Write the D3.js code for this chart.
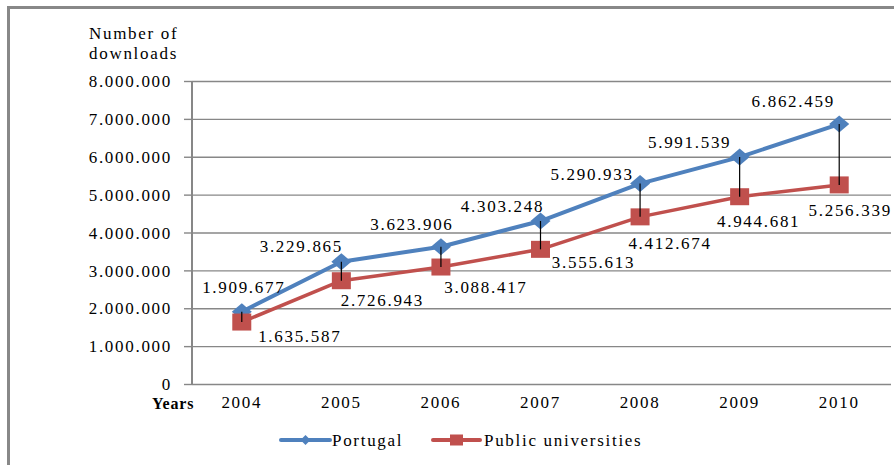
<!DOCTYPE html>
<html>
<head>
<meta charset="utf-8">
<script src="https://cdn.jsdelivr.net/npm/d3@7"></script>
</head>
<body style="margin:0;padding:0;background:#fff;font-family:serif">
<svg id="chart" width="894" height="465" font-family="serif" style="display:block;font-family:serif"></svg>
<script>
// ---- data ----
const years = ["2004", "2005", "2006", "2007", "2008", "2009", "2010"];
const portugal = [1909677, 3229865, 3623906, 4303248, 5290933, 5991539, 6862459];
const publicUniversities = [1635587, 2726943, 3088417, 3555613, 4412674, 4944681, 5256339];
const yTicks = [0, 1000000, 2000000, 3000000, 4000000, 5000000, 6000000, 7000000, 8000000];
const seriesNames = ["Portugal", "Public universities"];
const yTitle = ["Number of", "downloads"];
const xTitle = "Years";

// label offsets (pixels, relative to the point)
const portugalLabelOffset = [[2, -25], [-40, -16], [-29, -23], [-38, -15], [-48, -10], [-50, -15], [-46, -23]];
const publicLabelOffset = [[58, 14], [41, 19], [45, 20], [53, 13], [30, 26], [19, 24], [11, 25]];

(function () {
const FONT = "serif";
const svg = d3.select("#chart");
const pLeft = 192, pRight = 889, pTop = 81, pBottom = 384;
const blue = "#4F81BD", red = "#C0504D", grid = "#878787";
const fontSize = 17, ls = 1.7;

const fmt = v => v === 0 ? "0" : d3.format(",")(v).replace(/,/g, ".");

const x = d3.scaleBand().domain(years).range([pLeft, pRight]);
const cx = d => x(d) + x.bandwidth() / 2;
const y = d3.scaleLinear().domain([0, 8000000]).range([pBottom, pTop]);

// outer frame
svg.append("line").attr("x1", 7).attr("x2", 894).attr("y1", 7.5).attr("y2", 7.5)
  .attr("stroke", "#888").attr("stroke-width", 3);
svg.append("line").attr("x1", 8.5).attr("x2", 8.5).attr("y1", 6).attr("y2", 465)
  .attr("stroke", "#888").attr("stroke-width", 3);

// gridlines
const gridAxis = d3.axisLeft(y).tickValues(yTicks).tickSize(-(891 - pLeft)).tickFormat("");
const gG = svg.append("g").attr("transform", `translate(${pLeft},0)`).call(gridAxis);
gG.select(".domain").remove();
gG.selectAll(".tick line").attr("stroke", grid).attr("stroke-width", 1.4);
gG.selectAll(".tick text").remove();

// y axis ticks + labels
const yAxis = d3.axisLeft(y).tickValues(yTicks).tickSize(8).tickPadding(12).tickFormat(fmt);
const yG = svg.append("g").attr("transform", `translate(${pLeft},0)`).call(yAxis)
  .attr("font-family", FONT).attr("font-size", fontSize);
yG.select(".domain").remove();
yG.selectAll(".tick line").attr("stroke", grid).attr("stroke-width", 1.4);
yG.selectAll(".tick text").attr("fill", "#000").attr("dy", "0.33em");

svg.append("line").attr("x1", pLeft).attr("x2", pLeft).attr("y1", pTop).attr("y2", pBottom)
  .attr("stroke", grid).attr("stroke-width", 2);

// x axis labels
const xAxis = d3.axisBottom(x).tickSize(0).tickPadding(14);
const xG = svg.append("g").attr("transform", `translate(0,${pBottom})`).call(xAxis)
  .attr("font-family", FONT).attr("font-size", fontSize);
xG.select(".domain").remove();
xG.selectAll(".tick text").attr("fill", "#000").attr("dy", "0.6em");

const txt = (sel) => sel.attr("fill", "#000");

// titles
svg.append("text").attr("x", 89).attr("y", 39).call(txt).text(yTitle[0]);
svg.append("text").attr("x", 89).attr("y", 59).call(txt).text(yTitle[1]);
svg.append("text").attr("class", "xt").attr("x", 152).attr("y", 409).call(txt)
  .attr("font-weight", "bold").text(xTitle);

// lines
const line = d3.line().x((d, i) => cx(years[i])).y(d => y(d));
svg.append("path").datum(publicUniversities).attr("d", line).attr("fill", "none")
  .attr("stroke", red).attr("stroke-width", 3.5).attr("stroke-linejoin", "round");
svg.append("path").datum(portugal).attr("d", line).attr("fill", "none")
  .attr("stroke", blue).attr("stroke-width", 4).attr("stroke-linejoin", "round");

// markers
const diamond = (px, py, w, h) => `M${px},${py - h / 2}L${px + w / 2},${py}L${px},${py + h / 2}L${px - w / 2},${py}Z`;
svg.append("g").selectAll("path").data(portugal).join("path")
  .attr("d", (d, i) => diamond(cx(years[i]), y(d), 20, 17)).attr("fill", blue);
svg.append("g").selectAll("rect").data(publicUniversities).join("rect")
  .attr("x", (d, i) => cx(years[i]) - 9.5).attr("y", d => y(d) - 8.5)
  .attr("width", 19).attr("height", 17).attr("fill", red);

// high-low lines
svg.append("g").selectAll("line").data(years).join("line")
  .attr("x1", d => cx(d)).attr("x2", d => cx(d))
  .attr("y1", (d, i) => y(portugal[i])).attr("y2", (d, i) => y(publicUniversities[i]))
  .attr("stroke", "#000").attr("stroke-width", 1.2);

// data labels
svg.append("g").selectAll("text").data(portugal).join("text")
  .attr("x", (d, i) => cx(years[i]) + portugalLabelOffset[i][0])
  .attr("y", (d, i) => y(d) + portugalLabelOffset[i][1])
  .attr("dy", "0.35em").attr("text-anchor", "middle").call(txt).text(fmt);
svg.append("g").selectAll("text").data(publicUniversities).join("text")
  .attr("x", (d, i) => cx(years[i]) + publicLabelOffset[i][0])
  .attr("y", (d, i) => y(d) + publicLabelOffset[i][1])
  .attr("dy", "0.35em").attr("text-anchor", "middle").call(txt).text(fmt);

// legend
const lg = svg.append("g");
const legY = 440;
lg.append("line").attr("x1", 281).attr("x2", 330).attr("y1", legY).attr("y2", legY)
  .attr("stroke", blue).attr("stroke-width", 4).attr("stroke-linecap", "round");
lg.append("path").attr("d", diamond(305.5, legY, 10, 10)).attr("fill", blue);
lg.append("text").attr("x", 332).attr("y", legY).attr("dy", "0.35em").call(txt).text(seriesNames[0]);
lg.append("line").attr("x1", 433).attr("x2", 480).attr("y1", legY).attr("y2", legY)
  .attr("stroke", red).attr("stroke-width", 4).attr("stroke-linecap", "round");
lg.append("rect").attr("x", 450).attr("y", legY - 5.5).attr("width", 13).attr("height", 11).attr("fill", red);
lg.append("text").attr("x", 484).attr("y", legY).attr("dy", "0.35em").call(txt).text(seriesNames[1]);

// font styling applied to every text element directly
function applyFont() {
  svg.selectAll("text")
    .attr("font-family", FONT)
    .style("font-family", "serif")
    .attr("font-size", fontSize)
    .attr("letter-spacing", ls);
  svg.select("text.xt").attr("font-size", 16).attr("letter-spacing", 0.8);
}
applyFont();
})();
</script>
</body>
</html>
